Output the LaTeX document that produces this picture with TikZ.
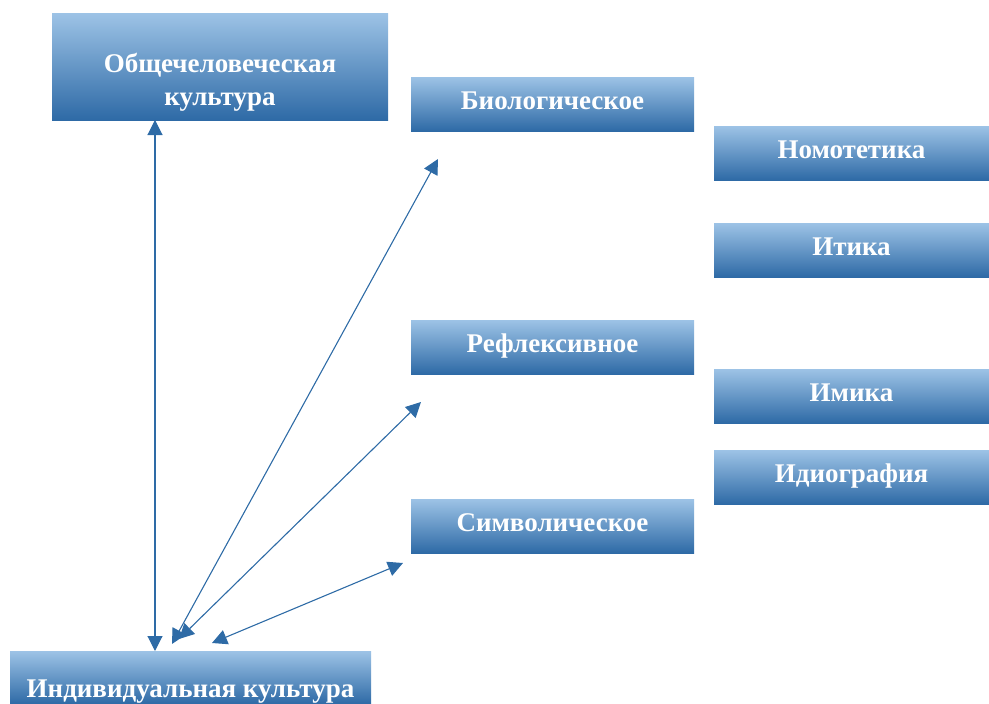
\documentclass[tikz,border=0pt]{standalone}
\usepackage{fontspec}
\setmainfont{Liberation Serif}
\usetikzlibrary{arrows.meta, positioning}
\definecolor{boxtop}{HTML}{9DC3E6}
\definecolor{boxmid}{HTML}{5B9BD5}
\definecolor{boxbot}{HTML}{2E6AA6}
\definecolor{linkblue}{HTML}{2E6BA6}

\begin{document}
\begin{tikzpicture}[x=1pt, y=-1pt]
   \tikzset{
     cbox/.style={rectangle, anchor=north west, inner sep=0pt, outer sep=0pt,
       top color=boxtop, middle color=boxmid, bottom color=boxbot, text=white,
       font=\bfseries\fontsize{27}{33}\selectfont, text height=18pt, text depth=7pt},
     wide/.style={cbox, minimum width=283pt, minimum height=54pt},
     side/.style={cbox, minimum width=275pt, minimum height=54pt},
     link/.style={draw=linkblue, line width=1.1pt,
       {Triangle[length=15pt,width=15pt]}-{Triangle[length=15pt,width=15pt]}}
   }
\useasboundingbox (0,0) rectangle (989,704);
% left column
\node[cbox, minimum width=336pt, minimum height=107pt, text height=52pt, text depth=8pt] (obsh) at (52,13)
  {\begin{tabular}{@{}c@{}}Общечеловеческая\\культура\end{tabular}};
\node[cbox, minimum width=361pt, minimum height=53pt, text height=46pt, text depth=6pt] (indiv) at (10,651) {Индивидуальная культура};
% middle column
\node[wide] (bio) at (411,77) {Биологическое};
\node[wide] (refl) at (411,320) {Рефлексивное};
\node[wide] (simv) at (411,499) {Символическое};
% right column
\node[side] (nomo) at (714,126) {Номотетика};
\node[side] (itika) at (714,223) {Итика};
\node[side] (imika) at (714,369) {Имика};
\node[side] (idio) at (714,450) {Идиография};
% free ends of the links
\coordinate (bioend) at (438,159);
\coordinate (reflend) at (421,402);
\coordinate (simvend) at (403,563);
\coordinate (bioin) at (172,644);
\coordinate (reflin) at (179,639);
\coordinate (simvin) at (212,643);
\draw[link] ([xshift=-65pt]obsh.south) -- ([xshift=-35.5pt]indiv.north);
\draw[link] (bioin) -- (bioend);
\draw[link] (reflin) -- (reflend);
\draw[link] (simvin) -- (simvend);
\end{tikzpicture}
\end{document}
